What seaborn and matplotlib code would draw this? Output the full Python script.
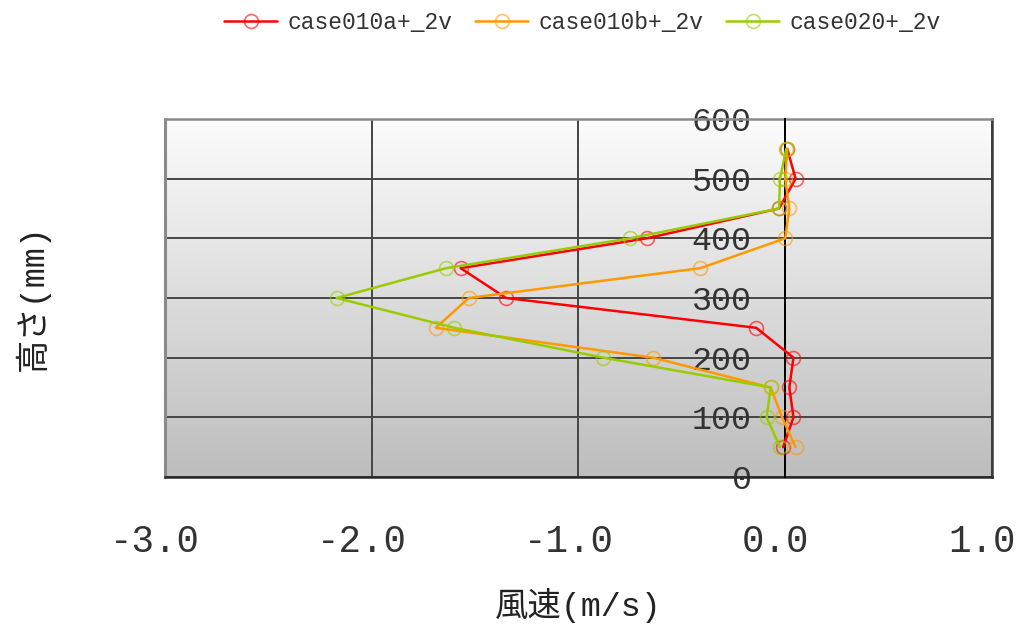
import numpy as np
import pandas as pd
import matplotlib
matplotlib.use("Agg")
import matplotlib.pyplot as plt
import matplotlib.transforms as mtransforms
from matplotlib.colors import LinearSegmentedColormap, to_rgba
import seaborn as sns

# Measured profiles: wind speed (m/s) at each height (mm)
heights = [50, 100, 150, 200, 250, 300, 350, 400, 450, 500, 550]
case010a = [-0.01, 0.04, 0.02, 0.04, -0.14, -1.35, -1.57, -0.67, -0.03, 0.05, 0.01]
case010b = [0.05, -0.015, -0.07, -0.64, -1.69, -1.53, -0.41, 0.00, 0.02, 0.00, 0.01]
case020 = [-0.025, -0.09, -0.07, -0.88, -1.60, -2.17, -1.64, -0.75, -0.03, -0.025, 0.005]

series_names = ["case010a+_2v", "case010b+_2v", "case020+_2v"]
series_colors = ["#ff0000", "#ff9900", "#99cc00"]

x_ticks = [-3.0, -2.0, -1.0, 0.0, 1.0]
x_tick_labels = ["-3.0", "-2.0", "-1.0", "0.0", "1.0"]
y_ticks = [0, 100, 200, 300, 400, 500, 600]
y_tick_labels = ["0", "100", "200", "300", "400", "500", "600"]

df = pd.concat(
    [
        pd.DataFrame({"height": heights, "speed": vals, "case": name})
        for name, vals in zip(series_names, [case010a, case010b, case020])
    ],
    ignore_index=True,
)

sns.set_theme(style="white")
mono = ["Liberation Mono", "Noto Sans CJK JP", "DejaVu Sans"]
plt.rcParams["font.family"] = mono

fig = plt.figure(figsize=(10.22, 6.37), dpi=100)
ax = fig.add_axes([0.1614, 0.2512, 0.8092, 0.5620])

# vertical grey gradient behind the plot area
grad = LinearSegmentedColormap.from_list("bg", ["#bdbdbd", "#fcfcfc"])
ax.imshow(np.linspace(0, 1, 256)[:, None], extent=(0, 1, 0, 1),
          transform=ax.transAxes, aspect="auto", cmap=grad,
          origin="lower", zorder=0)

sns.lineplot(
    data=df, x="speed", y="height", hue="case", palette=series_colors,
    hue_order=series_names, orient="y", sort=False, estimator=None,
    marker="o", markersize=10, markerfacecolor="none",
    markeredgewidth=1.2, linewidth=1.8, ax=ax, zorder=3,
)

for line in ax.get_lines():
    line.set_markeredgecolor(to_rgba(line.get_color(), 0.6))

ax.set_xlim(-3.0, 1.0)
ax.set_ylim(0, 600)
ax.set_xticks(x_ticks)
ax.set_xticklabels(x_tick_labels)
ax.set_yticks(y_ticks)
ax.set_yticklabels(y_tick_labels)

ax.grid(True, color="#454545", linewidth=1.4, zorder=1)
ax.set_axisbelow(True)

# value axis drawn through zero wind speed
ax.spines["left"].set_position(("data", 0))
ax.spines["left"].set_color("black")
ax.spines["left"].set_linewidth(1.4)
ax.spines["left"].set_zorder(2.6)
for side, col in [("top", "#8a8a8a"), ("right", "#3a3a3a"), ("bottom", "#2a2a2a")]:
    ax.spines[side].set_visible(True)
    ax.spines[side].set_color(col)
    ax.spines[side].set_linewidth(1.8)
ax.plot([0, 0], [0, 1], transform=ax.transAxes, color="#8a8a8a",
        linewidth=2.2, zorder=2.5, clip_on=False)

ax.tick_params(axis="x", length=0, pad=34, labelsize=27, colors="#333333")
ax.tick_params(axis="y", direction="in", length=7, width=1.4, color="black",
               pad=24, labelsize=24, labelcolor="#333333")

# nudge the speed labels slightly left of their ticks
shift = mtransforms.ScaledTranslation(-10 / 100, 0, fig.dpi_scale_trans)
for lbl in ax.get_xticklabels():
    lbl.set_transform(lbl.get_transform() + shift)

ax.set_xlabel("風速(m/s)", fontsize=24, labelpad=20, color="#222222")
ax.set_ylabel("高さ(mm)", fontsize=24, color="#222222")
ax.yaxis.set_label_coords(-0.139, 0.5)

leg = ax.legend(
    loc="center", bbox_to_anchor=(0.570, 0.965), bbox_transform=fig.transFigure,
    ncol=3, frameon=False, fontsize=16.5, handlelength=2.3, handletextpad=0.45,
    columnspacing=1.0, borderaxespad=0,
)
for h in leg.legend_handles:
    h.set_markeredgecolor(to_rgba(h.get_color(), 0.6))
for t in leg.get_texts():
    t.set_color("#333333")

fig.savefig("out.png", dpi=100)
